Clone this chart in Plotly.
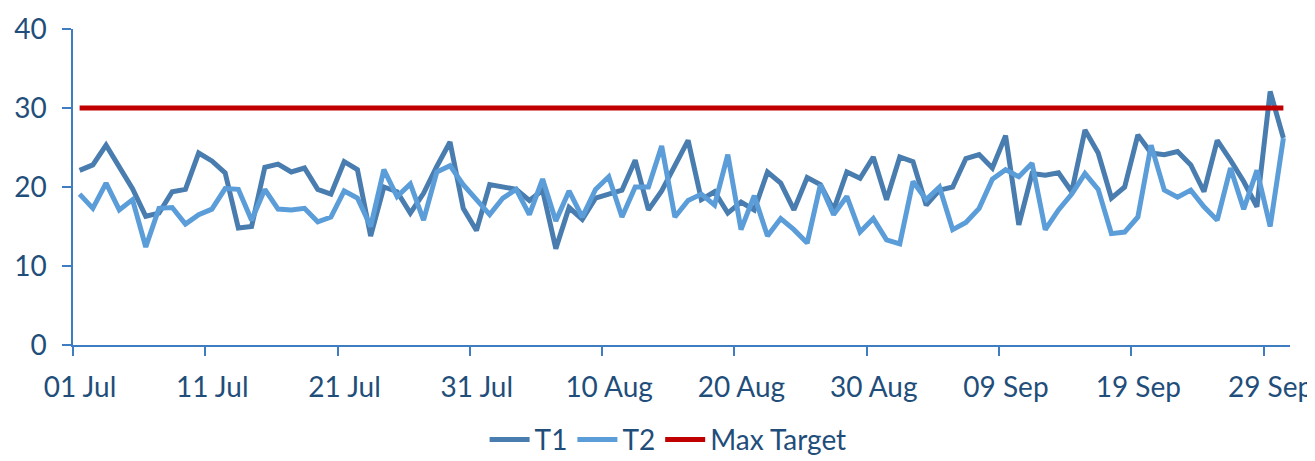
import pandas as pd
import plotly.graph_objects as go

# Daily values, 01 Jul - 30 Sep
t1 = [22.1, 22.8, 25.3, 22.6, 19.8, 16.3, 16.7, 19.4, 19.7, 24.3,
      23.3, 21.8, 14.8, 15.0, 22.5, 22.9, 21.9, 22.4, 19.7, 19.1,
      23.2, 22.2, 13.8, 20.0, 19.4, 16.7, 19.2, 22.6, 25.7, 17.3,
      14.5, 20.3, 20.0, 19.7, 18.3, 19.6, 12.2, 17.4, 15.9, 18.6,
      19.1, 19.6, 23.4, 17.1, 19.5, 22.8, 25.9, 18.4, 19.4, 16.7,
      18.1, 17.1, 21.9, 20.5, 17.1, 21.2, 20.3, 17.1, 21.9, 21.1,
      23.8, 18.4, 23.8, 23.2, 17.7, 19.6, 20.0, 23.6, 24.1, 22.4,
      26.5, 15.2, 21.7, 21.5, 21.8, 19.4, 27.2, 24.3, 18.6, 20.0,
      26.6, 24.3, 24.1, 24.5, 22.8, 19.4, 25.9, 23.4, 20.7, 17.5,
      32.1, 26.2]
t2 = [19.1, 17.3, 20.5, 17.1, 18.4, 12.4, 17.3, 17.4, 15.3, 16.5,
      17.2, 19.8, 19.7, 15.8, 19.7, 17.2, 17.1, 17.3, 15.6, 16.2,
      19.5, 18.6, 15.0, 22.2, 18.8, 20.4, 15.8, 21.9, 22.7, 20.3,
      18.4, 16.5, 18.6, 19.7, 16.5, 21.0, 15.7, 19.5, 16.2, 19.7,
      21.3, 16.2, 20.0, 20.0, 25.2, 16.2, 18.3, 19.1, 17.7, 24.1,
      14.6, 18.9, 13.8, 16.0, 14.6, 12.9, 20.3, 16.5, 18.8, 14.3,
      16.0, 13.3, 12.8, 20.7, 18.4, 20.0, 14.6, 15.5, 17.3, 21.0,
      22.2, 21.3, 23.0, 14.6, 17.1, 19.1, 21.7, 19.7, 14.1, 14.3,
      16.2, 25.3, 19.6, 18.7, 19.6, 17.5, 15.8, 22.4, 17.2, 22.1,
      15.0, 26.2]
max_target = [30] * len(t1)

dates = pd.date_range("2023-07-01 12:00", periods=len(t1), freq="D")

TEXT = "#1F4E7A"
AXIS = "#3E7DC1"
FONT = "Lato"
FS = 28

fig = go.Figure()
fig.add_trace(go.Scatter(x=dates, y=t1, name="T1", mode="lines",
                         line=dict(color="#4A7DAF", width=5)))
fig.add_trace(go.Scatter(x=dates, y=t2, name="T2", mode="lines",
                         line=dict(color="#5B9DD8", width=5)))
fig.add_trace(go.Scatter(x=dates, y=max_target, name="Max Target", mode="lines",
                         line=dict(color="#C00000", width=5)))

fig.update_layout(
    width=1315, height=461,
    margin=dict(l=65, r=33, t=21, b=124, autoexpand=False),
    plot_bgcolor="white", paper_bgcolor="white",
    font=dict(family=FONT, size=FS, color=TEXT),
    showlegend=True,
    legend=dict(orientation="h", x=0.489, xanchor="center", y=-0.300, yanchor="middle",
                font=dict(size=28, color=TEXT), itemwidth=40, tracegroupgap=0),
)
fig.update_xaxes(
    type="date", automargin=False,
    range=["2023-07-01 00:00", "2023-10-01 00:00"],
    tick0="2023-07-01", dtick=10 * 86400000, tickformat="%d %b",
    ticks="outside", ticklen=9, tickcolor=AXIS, tickwidth=1.5,
    showline=True, linecolor=AXIS, linewidth=1.5,
    showgrid=False, zeroline=False,
    ticklabelshift=7, ticklabelstandoff=8,
    tickfont=dict(size=FS, color=TEXT, family=FONT),
)
fig.update_yaxes(
    range=[0, 40], dtick=10, automargin=False,
    ticks="outside", ticklen=9, tickcolor=AXIS, tickwidth=1.5,
    showline=True, linecolor=AXIS, linewidth=1.5,
    showgrid=False, zeroline=False,
    ticklabelstandoff=10,
    tickfont=dict(size=FS, color=TEXT, family=FONT),
)

fig.write_html("out.html")
